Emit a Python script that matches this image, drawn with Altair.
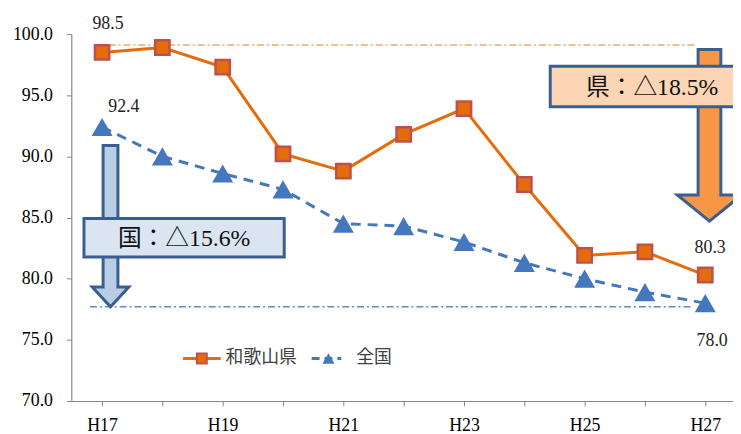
import altair as alt
import pandas as pd

# ---- data ----
periods = ["H17", "H18", "H19", "H20", "H21", "H22", "H23", "H24", "H25", "H26", "H27"]
wakayama = [98.5, 98.9, 97.3, 90.2, 88.8, 91.8, 93.9, 87.7, 81.9, 82.2, 80.3]
zenkoku = [92.4, 90.0, 88.6, 87.3, 84.5, 84.3, 83.0, 81.3, 80.0, 78.9, 78.0]
series_names = ["和歌山県", "全国"]
y_ticks = [70, 75, 80, 85, 90, 95, 100]
box_texts = ["県：△18.5%", "国：△15.6%"]
ref_levels = [99.1, 77.7]

years = [int(p[1:]) for p in periods]

ORANGE = "#E46C0A"
SQ_STROKE = "#C0504D"
BLUE = "#4577BE"
BOX_STROKE = "#3B5E91"
SERIF = "Liberation Serif, Noto Sans CJK JP"
SANS = "Noto Sans CJK JP"

xscale = alt.Scale(domain=[16.49, 27.46], nice=False, zero=False)
yscale = alt.Scale(domain=[70, 100], nice=False, zero=False)
xaxis = alt.Axis(values=years, labelExpr="datum.value % 2 == 1 ? 'H' + datum.value : ''",
                 title=None, grid=False, tickSize=5, labelPadding=11)
yaxis = alt.Axis(values=y_ticks, format=".1f", title=None, grid=False, tickSize=5, labelPadding=14)


def X(f="x"):
    return alt.X(f"{f}:Q", scale=xscale, axis=xaxis)


def Y(f="v"):
    return alt.Y(f"{f}:Q", scale=yscale, axis=yaxis)


df_ken = pd.DataFrame({"x": years, "v": wakayama})
df_kuni = pd.DataFrame({"x": years, "v": zenkoku})

# reference dash-dot lines
df_ref_ken = pd.DataFrame({"x": [17.11], "x2": [26.82], "v": [ref_levels[0]]})
df_ref_kuni = pd.DataFrame({"x": [16.80], "x2": [26.79], "v": [ref_levels[1]]})
ref_ken = alt.Chart(df_ref_ken).mark_rule(color="#F2A66A", strokeWidth=1.5, strokeDash=[7, 3, 2, 3]).encode(
    x=X(), x2="x2:Q", y=Y())
ref_kuni = alt.Chart(df_ref_kuni).mark_rule(color="#5F8AC6", strokeWidth=1.5, strokeDash=[7, 3, 2, 3]).encode(
    x=X(), x2="x2:Q", y=Y())

# arrows (custom path symbols, tip at the anchor point, size=4 -> 1 unit = 1px)
arrow_blue_path = "M-7.5,-163 L7.5,-163 L7.5,-20 L18.5,-20 L0,0 L-18.5,-20 L-7.5,-20 Z"
arrow_orange_path = "M-11.5,-173.5 L11.5,-173.5 L11.5,-26.5 L32.5,-26.5 L0,0 L-32.5,-26.5 L-11.5,-26.5 Z"
df_arrow_kuni = pd.DataFrame({"x": [17.14], "v": [ref_levels[1]]})
df_arrow_ken = pd.DataFrame({"x": [27.07], "v": [84.7]})
arrow_kuni = alt.Chart(df_arrow_kuni).mark_point(
    shape=arrow_blue_path, size=4, filled=True, fill="#B9CDE5", stroke=BOX_STROKE,
    strokeWidth=3, opacity=1, strokeJoin="miter").encode(x=X(), y=Y())
arrow_ken = alt.Chart(df_arrow_ken).mark_point(
    shape=arrow_orange_path, size=4, filled=True, fill="#F79646", stroke=BOX_STROKE,
    strokeWidth=3, opacity=1, strokeJoin="miter").encode(x=X(), y=Y())

# annotation boxes
df_box_kuni = pd.DataFrame({"x": [16.70], "x2": [20.02], "v": [84.92], "v2": [81.77]})
df_box_ken = pd.DataFrame({"x": [24.43], "x2": [28.5], "v": [97.37], "v2": [94.06]})
box_kuni = alt.Chart(df_box_kuni).mark_rect(fill="#DBE5F1", stroke=BOX_STROKE, strokeWidth=3).encode(
    x=X(), x2="x2:Q", y=Y(), y2="v2:Q")
box_ken = alt.Chart(df_box_ken).mark_rect(fill="#FCD5B5", stroke=BOX_STROKE, strokeWidth=3).encode(
    x=X(), x2="x2:Q", y=Y(), y2="v2:Q")
df_boxtext = pd.DataFrame({"x": [26.12, 18.36], "v": [95.55, 83.27], "t": box_texts})
box_text = alt.Chart(df_boxtext).mark_text(font=SERIF, fontSize=24, color="#111111",
                                           align="center", baseline="middle").encode(
    x=X(), y=Y(), text="t:N")

# series
line_ken = alt.Chart(df_ken).mark_line(color=ORANGE, strokeWidth=3).encode(x=X(), y=Y())
pts_ken = alt.Chart(df_ken).mark_point(shape="square", size=210, filled=True, fill=ORANGE,
                                       stroke=SQ_STROKE, strokeWidth=2.5, opacity=1).encode(x=X(), y=Y())
line_kuni = alt.Chart(df_kuni).mark_line(color=BLUE, strokeWidth=3, strokeDash=[10, 7]).encode(x=X(), y=Y())
pts_kuni = alt.Chart(df_kuni).mark_point(shape="triangle-up", size=450, filled=True, fill=BLUE,
                                         strokeWidth=0, opacity=1).encode(x=X(), y=Y())

# data labels
label_specs = [(wakayama, 0, 6, -29), (zenkoku, 0, 22, -20), (wakayama, 10, 5, -27), (zenkoku, 10, 7, 38)]
label_layers = []
for vals, i, dx, dy in label_specs:
    d = pd.DataFrame({"x": [years[i]], "v": [vals[i]]})
    label_layers.append(
        alt.Chart(d).mark_text(font=SERIF, fontSize=18, color="#222222", dx=dx, dy=dy,
                               align="center", baseline="middle").encode(
            x=X(), y=Y(), text=alt.Text("v:Q", format=".1f")))

# manual legend (pixel positions inside plot)
df_leg_ken = pd.DataFrame({"name": [series_names[0]]})
df_leg_kuni = pd.DataFrame({"name": [series_names[1]]})
leg = [
    alt.Chart(df_leg_ken).mark_rule(color=ORANGE, strokeWidth=3).encode(
        x=alt.value(113), x2=alt.value(151), y=alt.value(328)),
    alt.Chart(df_leg_ken).mark_point(shape="square", size=100, filled=True, fill=ORANGE,
                                     stroke=SQ_STROKE, strokeWidth=2, opacity=1).encode(
        x=alt.value(132), y=alt.value(328)),
    alt.Chart(df_leg_ken).mark_text(font=SANS, fontSize=18, color="#404040", align="left",
                                    baseline="middle").encode(
        x=alt.value(156), y=alt.value(328), text="name:N"),
    alt.Chart(df_leg_kuni).mark_rule(color=BLUE, strokeWidth=3, strokeDash=[8, 5]).encode(
        x=alt.value(243), x2=alt.value(273), y=alt.value(328)),
    alt.Chart(df_leg_kuni).mark_point(shape="triangle-up", size=150, filled=True, fill=BLUE,
                                      strokeWidth=0, opacity=1).encode(
        x=alt.value(260), y=alt.value(328)),
    alt.Chart(df_leg_kuni).mark_text(font=SANS, fontSize=18, color="#404040", align="left",
                                     baseline="middle").encode(
        x=alt.value(288), y=alt.value(328), text="name:N"),
]

chart = alt.layer(
    ref_ken, ref_kuni,
    arrow_kuni, arrow_ken,
    line_ken, line_kuni, pts_ken, pts_kuni,
    box_kuni, box_ken, box_text,
    *label_layers, *leg
).properties(
    width=669, height=371,
    autosize=alt.AutoSizeParams(type="none"),
    padding={"left": 64, "top": 24, "right": 0, "bottom": 31},
).configure_view(stroke=None).configure_axis(
    domainColor="#868686", tickColor="#868686", domainWidth=1.2,
    labelFont="Liberation Serif", labelFontSize=18, labelColor="#000000",
)

chart.save("out.html", embed_options={"renderer": "svg", "actions": False})
